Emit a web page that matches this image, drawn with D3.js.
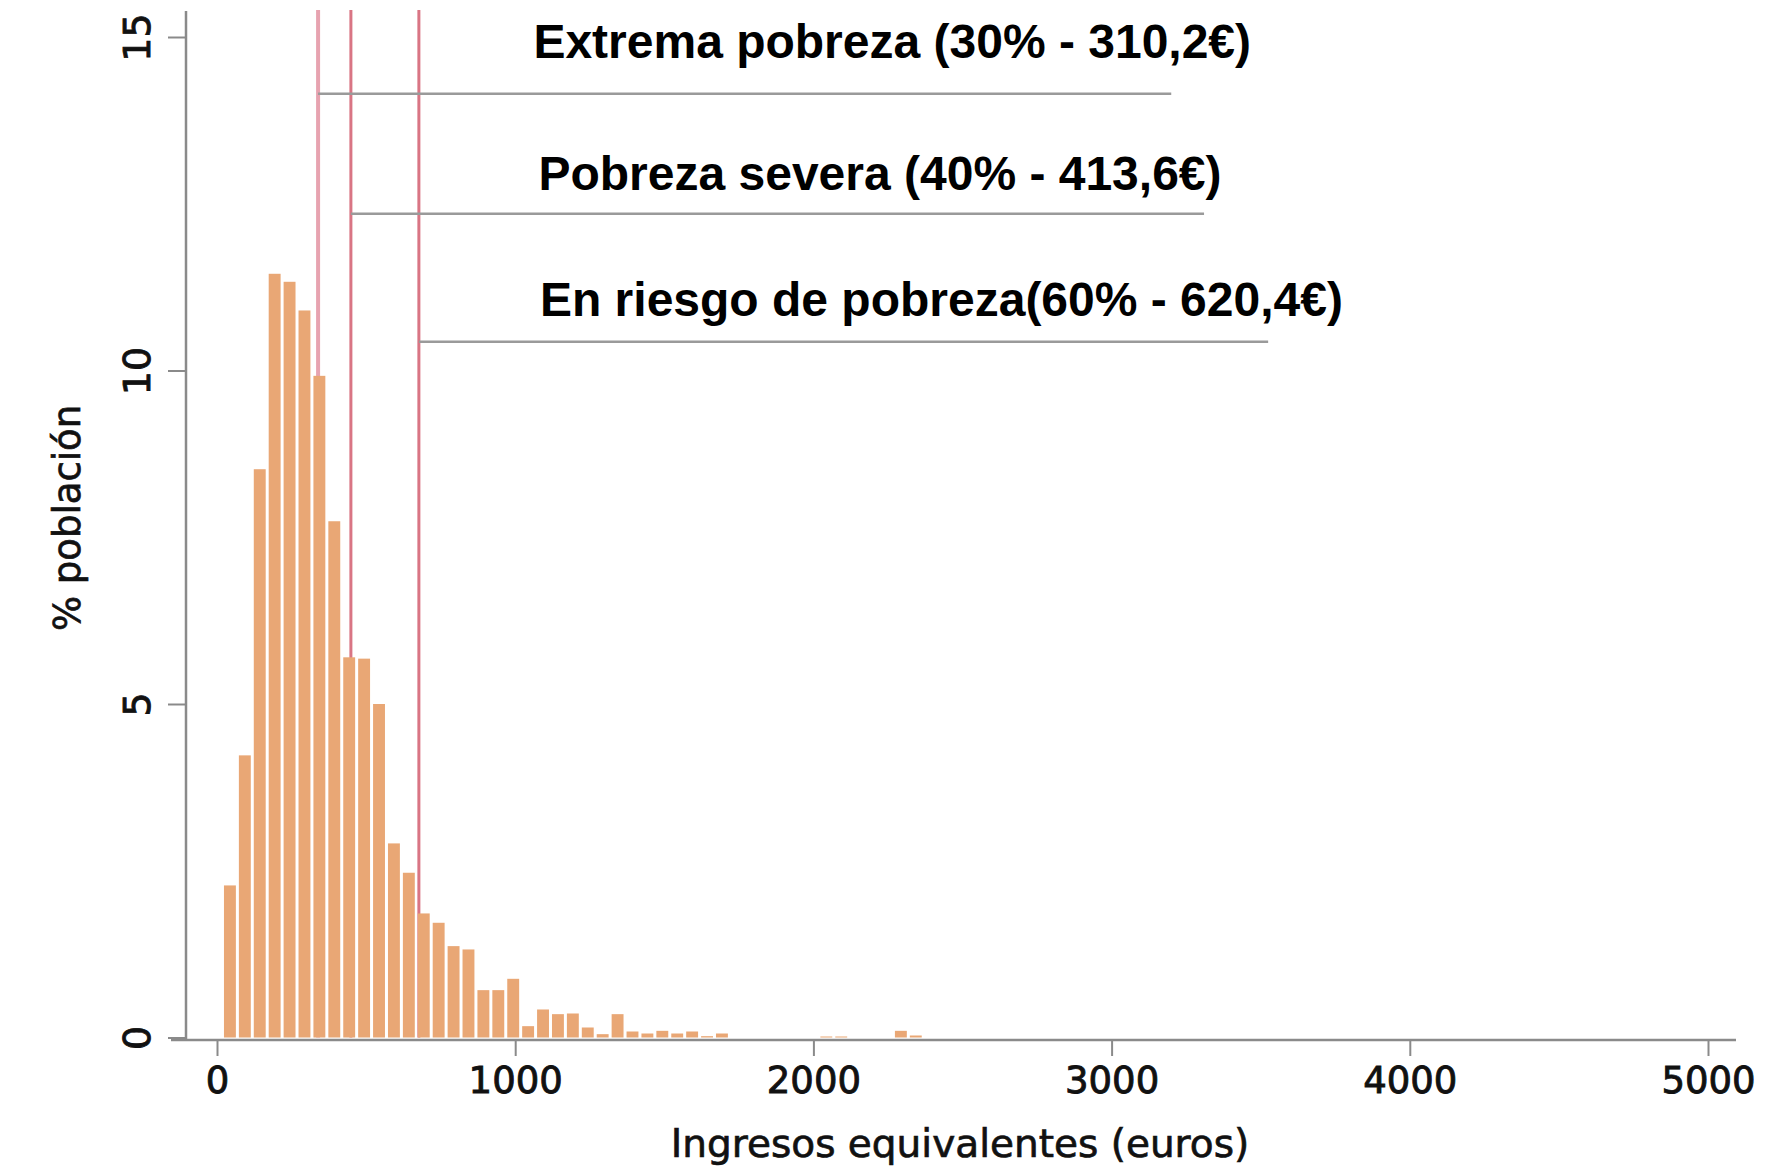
<html>
<head>
  <meta charset="utf-8">
  <title>Ingresos equivalentes</title>
  <script src="https://d3js.org/d3.v7.min.js"></script>
  <style>
    body { margin: 0; background: #fff; }
    svg { display: block; }
  </style>
</head>
<body>
<script>

// histogram bins (lower edge, euros) and share of population (%)
var binStarts = [20, 70, 120, 170, 220, 270, 320, 370, 420, 470,
                 520, 570, 620, 670, 720, 770, 820, 870, 920, 970,
                 1020, 1070, 1120, 1170, 1220, 1270, 1320, 1370, 1420, 1470,
                 1520, 1570, 1620, 1670, 2020, 2070, 2270, 2320];
var binShare = [2.28, 4.23, 8.52, 11.45, 11.33, 10.9, 9.92, 7.74, 5.7, 5.68,
                5.0, 2.91, 2.47, 1.86, 1.72, 1.37, 1.32, 0.71, 0.71, 0.88,
                0.17, 0.42, 0.35, 0.36, 0.15, 0.05, 0.35, 0.09, 0.06, 0.1,
                0.06, 0.09, 0.02, 0.06, 0.015, 0.015, 0.1, 0.03];
var binWidth = 50;

var xTicks = [0, 1000, 2000, 3000, 4000, 5000];
var yTicks = [0, 5, 10, 15];

// poverty thresholds as drawn on the chart
var lineLabels = ["Extrema pobreza (30% - 310,2€)",
                  "Pobreza severa (40% - 413,6€)",
                  "En riesgo de pobreza(60% - 620,4€)"];
var linePos   = [339, 449, 677];      // euros
var lineLevel = [14.15, 12.35, 10.43]; // % where the grey leader sits
var lineEnd   = [3200, 3310, 3525];    // euros
var labelX    = [1061, 1078, 1083];    // euros
var labelY    = [14.69, 12.71, 10.82]; // %

var width = 1788,
    height = 1168;

var x = d3.scaleLinear().domain([0, 5000]).range([217, 1708]),
    y = d3.scaleLinear().domain([0, 15]).range([1037.5, 37]);

var axisFont = "'DejaVu Sans', sans-serif";

var svg = d3.select("body")
  .append("svg")
  .attr("width", width)
  .attr("height", height);

// red threshold lines (behind the bars)
svg.selectAll(".thr")
  .data(linePos)
  .enter()
  .append("line")
  .attr("class", "thr")
  .attr("x1", function(d) { return x(d); })
  .attr("x2", function(d) { return x(d); })
  .attr("y1", 10)
  .attr("y2", y(0))
  .attr("stroke", function(d, i) { return i == 0 ? "#e7a3b0" : "#d97584"; })
  .attr("stroke-width", function(d, i) { return i == 0 ? 4 : 3; });

// bars
svg.selectAll(".bar")
  .data(binStarts)
  .enter()
  .append("rect")
  .attr("class", "bar")
  .attr("x", function(d) { return x(d) + 1; })
  .attr("width", function(d) { return x(d + binWidth) - x(d) - 3; })
  .attr("y", function(d, i) { return y(binShare[i]); })
  .attr("height", function(d, i) { return y(0) - y(binShare[i]); })
  .attr("fill", "#e9a775");

// grey leader lines
svg.selectAll(".lead")
  .data(linePos)
  .enter()
  .append("line")
  .attr("class", "lead")
  .attr("x1", function(d) { return x(d); })
  .attr("x2", function(d, i) { return x(lineEnd[i]); })
  .attr("y1", function(d, i) { return y(lineLevel[i]); })
  .attr("y2", function(d, i) { return y(lineLevel[i]); })
  .attr("stroke", "#9a9a9a")
  .attr("stroke-width", 2.5);

svg.selectAll(".lab")
  .data(lineLabels)
  .enter()
  .append("text")
  .attr("class", "lab")
  .attr("x", function(d, i) { return x(labelX[i]); })
  .attr("y", function(d, i) { return y(labelY[i]); })
  .attr("font-family", "'Liberation Sans', Arial, sans-serif")
  .attr("font-weight", "bold")
  .attr("font-size", 48)
  .attr("fill", "#000")
  .text(function(d) { return d; });

// x axis
var gx = svg.append("g")
  .attr("transform", "translate(0,1040)")
  .call(d3.axisBottom(x).tickValues(xTicks).tickSize(16).tickFormat(d3.format("d")));

gx.select(".domain").remove();
gx.selectAll(".tick line").attr("stroke", "#8a8a8a").attr("stroke-width", 2);
gx.selectAll(".tick text")
  .attr("y", 53)
  .attr("dy", 0)
  .attr("font-family", axisFont)
  .attr("font-size", 37)
  .attr("fill", "#111")
  .attr("stroke", "#111")
  .attr("stroke-width", 0.9);

svg.append("line")
  .attr("x1", 171).attr("x2", 1736)
  .attr("y1", 1040).attr("y2", 1040)
  .attr("stroke", "#8a8a8a")
  .attr("stroke-width", 2.5);

// y axis
var gy = svg.append("g")
  .attr("transform", "translate(186,0)")
  .call(d3.axisLeft(y).tickValues(yTicks).tickSize(18));

gy.select(".domain").remove();
gy.selectAll(".tick line").attr("stroke", "#8a8a8a").attr("stroke-width", 2);
gy.selectAll(".tick text")
  .attr("x", null)
  .attr("dy", 0)
  .attr("transform", "translate(-36,0) rotate(-90)")
  .attr("text-anchor", "middle")
  .attr("font-family", axisFont)
  .attr("font-size", 38)
  .attr("fill", "#111")
  .attr("stroke", "#111")
  .attr("stroke-width", 0.9);

svg.append("line")
  .attr("x1", 186).attr("x2", 186)
  .attr("y1", 11).attr("y2", 1040)
  .attr("stroke", "#8a8a8a")
  .attr("stroke-width", 2.5);

// axis titles
svg.append("text")
  .attr("x", 960)
  .attr("y", 1157)
  .attr("text-anchor", "middle")
  .attr("font-family", axisFont)
  .attr("font-size", 39)
  .attr("fill", "#111")
  .attr("stroke", "#111")
  .attr("stroke-width", 0.7)
  .text("Ingresos equivalentes (euros)");

svg.append("text")
  .attr("transform", "translate(80,518) rotate(-90)")
  .attr("text-anchor", "middle")
  .attr("font-family", axisFont)
  .attr("font-size", 37)
  .attr("fill", "#111")
  .attr("stroke", "#111")
  .attr("stroke-width", 0.7)
  .text("% población");

</script>
</body>
</html>
